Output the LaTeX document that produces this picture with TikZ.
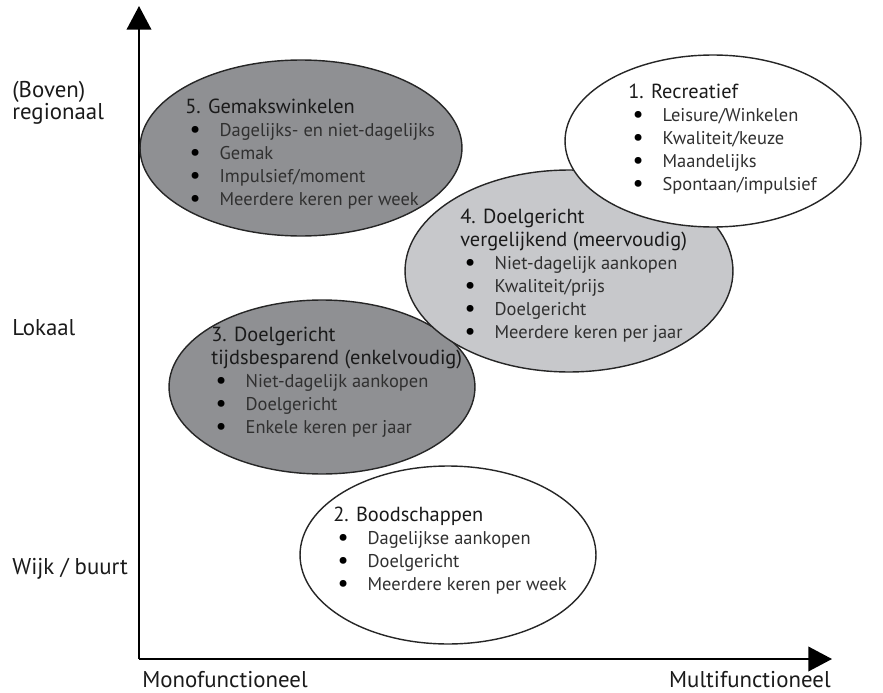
\documentclass[tikz,border=0pt]{standalone}
\usepackage{fontspec}
\setmainfont{PT Sans}
\usetikzlibrary{shapes.geometric,arrows.meta}
\definecolor{darkfill}{HTML}{8F9093}
\definecolor{lightfill}{HTML}{C7C8CB}
\definecolor{inktext}{HTML}{303030}
\definecolor{inktitle}{HTML}{1A1A1A}
\newcommand{\punt}[1]{\\\hspace*{2.5pt}\makebox[17pt][l]{\color{black}\fontsize{14}{13}\selectfont\smash{\raisebox{-0.6pt}{\textbullet}}}#1}
\newcommand{\kop}[1]{{\color{inktitle}\fontsize{11.6}{13}\selectfont #1}}

\begin{document}
\begin{tikzpicture}[x=0.02cm,y=-0.02cm,
    zone/.style={ellipse,draw=black!85,line width=0.8pt,inner sep=0pt},
    txt/.style={anchor=north west,inner sep=0pt,align=left,text=inktext,font=\fontsize{10.5}{13}\selectfont},
    axlabel/.style={inner sep=0pt,text=inktitle,font=\fontsize{13}{12.5}\selectfont},
    axis/.style={line width=1.2pt,-{Triangle[length=13.5pt,width=14pt]}}]
  \useasboundingbox (0,0) rectangle (883,693);

  % assen
  \coordinate (o) at (139,659);
  \coordinate (ytop) at (139,6);
  \coordinate (xend) at (832,659);
  \draw[axis] (o) -- (ytop);
  \draw[axis] (o) -- (xend);

  % winkelzones
  \node[zone,fill=darkfill,minimum width=6.44cm,minimum height=3.52cm] (gemak) at (301,148) {};
  \node[zone,fill=darkfill,minimum width=6.12cm,minimum height=3.48cm] (tijd) at (322,387) {};
  \node[zone,fill=lightfill,minimum width=6.56cm,minimum height=4.04cm] (vergelijk) at (569,271) {};
  \node[zone,fill=white,minimum width=5.92cm,minimum height=3.44cm] (recreatief) at (713,141) {};
  \node[zone,fill=white,minimum width=5.92cm,minimum height=3.56cm] (boodschap) at (448,555) {};

  % teksten
  \node[txt] (gemaktxt) at (185,99) {\kop{5. Gemakswinkelen}
    \punt{Dagelijks- en niet-dagelijks}\punt{Gemak}\punt{Impulsief/moment}\punt{Meerdere keren per week}};
  \node[txt] (recreatieftxt) at (628,84) {\kop{1. Recreatief}
    \punt{Leisure/Winkelen}\punt{Kwaliteit/keuze}\punt{Maandelijks}\punt{Spontaan/impulsief}};
  \node[txt] (vergelijktxt) at (460,209) {\kop{4. Doelgericht}\\\kop{vergelijkend (meervoudig)}
    \punt{Niet-dagelijk aankopen}\punt{Kwaliteit/prijs}\punt{Doelgericht}\punt{Meerdere keren per jaar}};
  \node[txt] (tijdtxt) at (211,327) {\kop{3. Doelgericht}\\\kop{tijdsbesparend (enkelvoudig)}
    \punt{Niet-dagelijk aankopen}\punt{Doelgericht}\punt{Enkele keren per jaar}};
  \node[txt] (boodschaptxt) at (333,507) {\kop{2. Boodschappen}
    \punt{Dagelijkse aankopen}\punt{Doelgericht}\punt{Meerdere keren per week}};

  % aslabels
  \node[axlabel,anchor=base west,align=left] (boven) at (12,119) {(Boven)\\regionaal};
  \node[axlabel,anchor=base west] (lokaal) at (12,335) {Lokaal};
  \node[axlabel,anchor=base west] (wijk) at (12,574) {Wijk / buurt};
  \node[axlabel,anchor=base west] (mono) at (142,687) {Monofunctioneel};
  \node[axlabel,anchor=base east] (multi) at (831,687) {Multifunctioneel};
\end{tikzpicture}
\end{document}
